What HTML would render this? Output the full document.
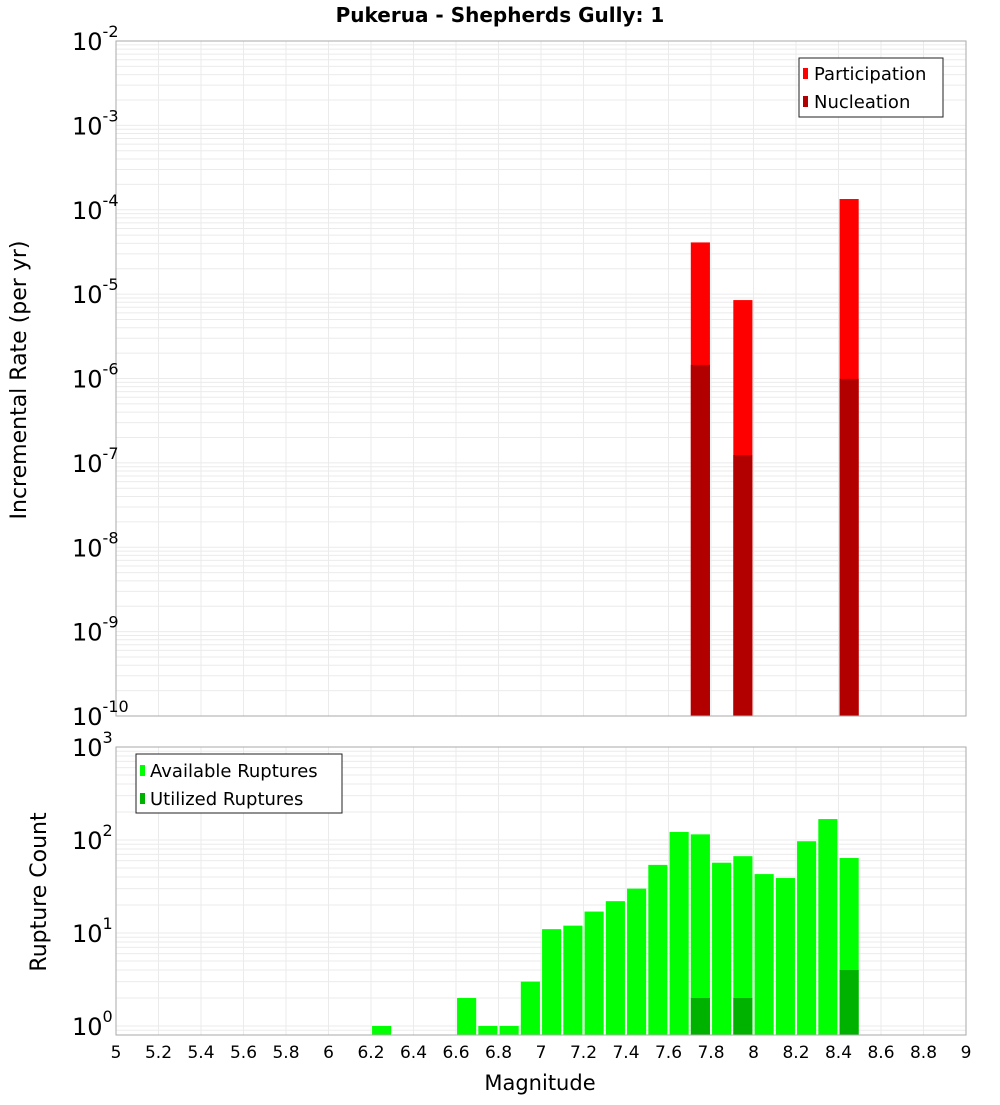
<!DOCTYPE html>
<html><head><meta charset="utf-8"><style>
body{margin:0;background:#fff;width:1000px;height:1100px;overflow:hidden}
svg{font-family:"DejaVu Sans","Liberation Sans",sans-serif}
</style></head><body>
<svg id="c" width="1000" height="1100" xmlns="http://www.w3.org/2000/svg">
<text x="500" y="22" text-anchor="middle" font-size="20" font-weight="bold">Pukerua - Shepherds Gully: 1</text>
</svg>
<script>
const topMags=[7.75,7.95,8.45];
const participation=[4.1e-5,8.5e-6,1.34e-4];
const nucleation=[1.45e-6,1.24e-7,9.9e-7];
const bottomMags=[6.25,6.65,6.75,6.85,6.95,7.05,7.15,7.25,7.35,7.45,7.55,7.65,7.75,7.85,7.95,8.05,8.15,8.25,8.35,8.45];
const available=[1,2,1,1,3,11,12,17,22,30,54,122,115,57,67,43,39,97,168,64];
const utilMags=[7.75,7.95,8.45];
const utilized=[2,2,4];
const xTicks=[5,5.2,5.4,5.6,5.8,6,6.2,6.4,6.6,6.8,7,7.2,7.4,7.6,7.8,8,8.2,8.4,8.6,8.8,9];
const topExps=[-2,-3,-4,-5,-6,-7,-8,-9,-10];
const botExps=[3,2,1,0];

const NS="http://www.w3.org/2000/svg",svg=document.getElementById('c');
function mk(t,a,p){const e=document.createElementNS(NS,t);for(const k in a)e.setAttribute(k,a[k]);(p||svg).appendChild(e);return e;}
const X0=116,X1=966;
const x=m=>X0+(m-5)/4*(X1-X0);
const T0=41,T1=716;
const yT=v=>T1-(Math.log10(v)+10)/8*(T1-T0);
const B0=747,B1=1035,BD=93;
const yB=v=>1026-Math.log10(v)*BD;

function grid(y0,y1,lo,hi,yf){
  const g=mk('g',{});
  
  
  for(let e=lo;e<hi;e++)for(let k=1;k<10;k++){const v=k*Math.pow(10,e);const yy=yf(v);if(yy<y0-0.5||yy>y1+0.5)continue;
    mk('line',{x1:X0,x2:X1,y1:yy,y2:yy,stroke:'#ebebeb','stroke-width':1},g);}
  xTicks.forEach(t=>mk('line',{x1:x(t),x2:x(t),y1:y0,y2:y1,stroke:'#ebebeb','stroke-width':1},g));
}
grid(T0,T1,-10,-2,yT);
grid(B0,B1,-1,3,yB);

// top bars
const tb=mk('g',{});


const bw=0.045;
topMags.forEach((m,i)=>{
  const r=mk('rect',{x:x(m-bw),y:yT(participation[i]),width:x(m+bw)-x(m-bw),height:T1-yT(participation[i]),fill:'#ff0000'},tb);
  
  
  const n=mk('rect',{x:x(m-bw),y:yT(nucleation[i]),width:x(m+bw)-x(m-bw),height:T1-yT(nucleation[i]),fill:'#b20000'},tb);
  
  
});
// bottom bars
const bb=mk('g',{});


bottomMags.forEach((m,i)=>{
  const r=mk('rect',{x:x(m-bw),y:yB(available[i]),width:x(m+bw)-x(m-bw),height:B1-yB(available[i]),fill:'#00ff00'},bb);
  
  
});
utilMags.forEach((m,i)=>{
  const r=mk('rect',{x:x(m-bw),y:yB(utilized[i]),width:x(m+bw)-x(m-bw),height:B1-yB(utilized[i]),fill:'#00b200'},bb);
  
  
});
// frames
const f1=mk('rect',{x:X0,y:T0,width:X1-X0,height:T1-T0,fill:'none',stroke:'#aaa'});


const f2=mk('rect',{x:X0,y:B0,width:X1-X0,height:B1-B0,fill:'none',stroke:'#aaa'});



function ylab(e,yy,nm){
  const t=mk('text',{x:72,y:yy+9,'font-size':24});
  
  
  t.textContent='10';
  const s=mk('tspan',{dy:-13,'font-size':16},t);s.textContent=String(e);
}
topExps.forEach(e=>ylab(e,yT(Math.pow(10,e)),'y-tick-label'));
botExps.forEach(e=>ylab(e,yB(Math.pow(10,e)),'y2-tick-label'));
xTicks.forEach(t=>{
  const tx=mk('text',{x:x(t),y:1058,'text-anchor':'middle','font-size':17});
  
  
  tx.textContent=String(t);
});
</script>
<svg width="1000" height="1100" style="position:absolute;left:0;top:0">
<text x="540" y="1090" text-anchor="middle" font-size="21" font-family="DejaVu Sans,sans-serif">Magnitude</text>
<text transform="translate(26,380) rotate(-90)" text-anchor="middle" font-size="22" font-family="DejaVu Sans,sans-serif">Incremental Rate (per yr)</text>
<text transform="translate(46,892) rotate(-90)" text-anchor="middle" font-size="22" font-family="DejaVu Sans,sans-serif">Rupture Count</text>
<g font-family="DejaVu Sans,sans-serif" font-size="18">
<rect x="799" y="58" width="144" height="59" fill="#fff" stroke="#222"/>
<rect x="803" y="68" width="5" height="11" fill="#ff0000"/><text x="814" y="80">Participation</text>
<rect x="803" y="96" width="5" height="11" fill="#b20000"/><text x="814" y="108">Nucleation</text>
</g>
<g font-family="DejaVu Sans,sans-serif" font-size="18">
<rect x="136" y="754" width="206" height="59" fill="#fff" stroke="#222"/>
<rect x="140" y="765" width="5" height="11" fill="#00ff00"/><text x="150" y="777">Available Ruptures</text>
<rect x="140" y="793" width="5" height="11" fill="#00b200"/><text x="150" y="805">Utilized Ruptures</text>
</g>
</svg>
</body></html>
